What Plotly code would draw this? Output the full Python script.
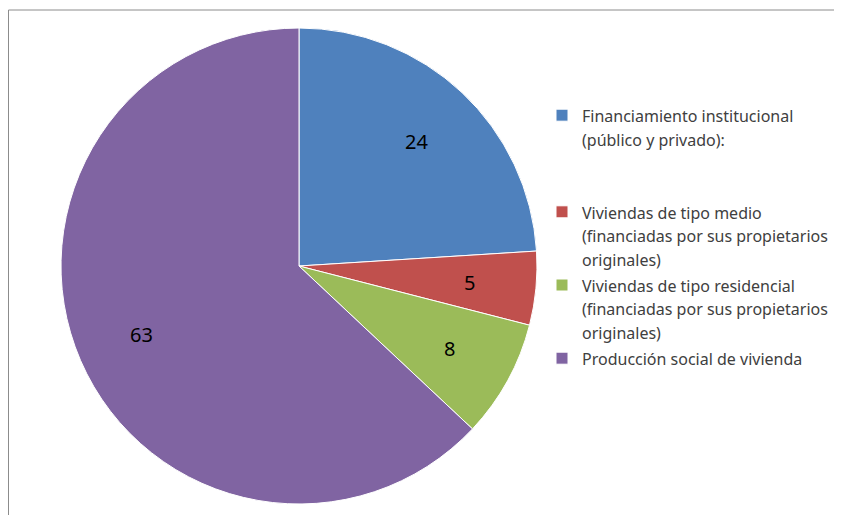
import math
import plotly.graph_objects as go

categories = [
    "Financiamiento institucional<br>(público y privado):",
    "Viviendas de tipo medio<br>(financiadas por sus propietarios<br>originales)",
    "Viviendas de tipo residencial<br>(financiadas por sus propietarios<br>originales)",
    "Producción social de vivienda",
]
values = [24, 5, 8, 63]
colors = ["#4F81BD", "#C0504D", "#9BBB59", "#8064A2"]
extra_blank_lines = [2, 0, 0, 0]

W, H = 842, 515
OFF = 8  # page body margin
cx, cy, R = 299 - OFF, 266 - OFF, 238

legend_labels = []
for lab, nb in zip(categories, extra_blank_lines):
    sp = '<span style="font-size:16px">'
    txt = sp + lab.replace("<br>", "</span><br>" + sp) + "</span>"
    txt += "<br> " * nb
    legend_labels.append(txt)

fig = go.Figure(
    go.Pie(
        labels=legend_labels,
        values=values,
        sort=False,
        direction="clockwise",
        rotation=0,
        marker=dict(colors=colors, line=dict(color="white", width=1)),
        textinfo="none",
        hoverinfo="label+value",
        domain=dict(x=[(cx - R) / W, (cx + R) / W], y=[(H - cy - R) / H, (H - cy + R) / H]),
    )
)

# value labels placed at the middle angle of each slice
total = sum(values)
annotations = []
cum = 0
for v in values:
    mid = (cum + v / 2) / total * 2 * math.pi
    cum += v
    r = 0.72 * R
    px = cx + r * math.sin(mid)
    py = cy - r * math.cos(mid)
    annotations.append(
        dict(
            x=px / W,
            y=1 - py / H,
            xref="paper",
            yref="paper",
            text=str(v),
            showarrow=False,
            font=dict(family="Noto Sans", size=20, color="black"),
            xanchor="center",
            yanchor="middle",
        )
    )

fig.update_layout(
    width=W,
    height=H,
    margin=dict(l=0, r=0, t=0, b=0),
    paper_bgcolor="white",
    plot_bgcolor="white",
    showlegend=True,
    annotations=annotations,
    legend=dict(
        x=534 / W,
        xanchor="left",
        y=(H - 89) / H,
        yanchor="top",
        valign="top",
        font=dict(family="Noto Sans", size=18, color="#404040"),
        bgcolor="rgba(0,0,0,0)",
        traceorder="normal",
    ),
    shapes=[
        dict(
            type="rect",
            xref="paper",
            yref="paper",
            x0=0.5 / W,
            x1=1.05,
            y0=-0.05,
            y1=(H - 2) / H,
            line=dict(color="#8C8C8C", width=1),
            fillcolor="rgba(0,0,0,0)",
            layer="below",
        )
    ],
)

fig.write_html("out.html")
